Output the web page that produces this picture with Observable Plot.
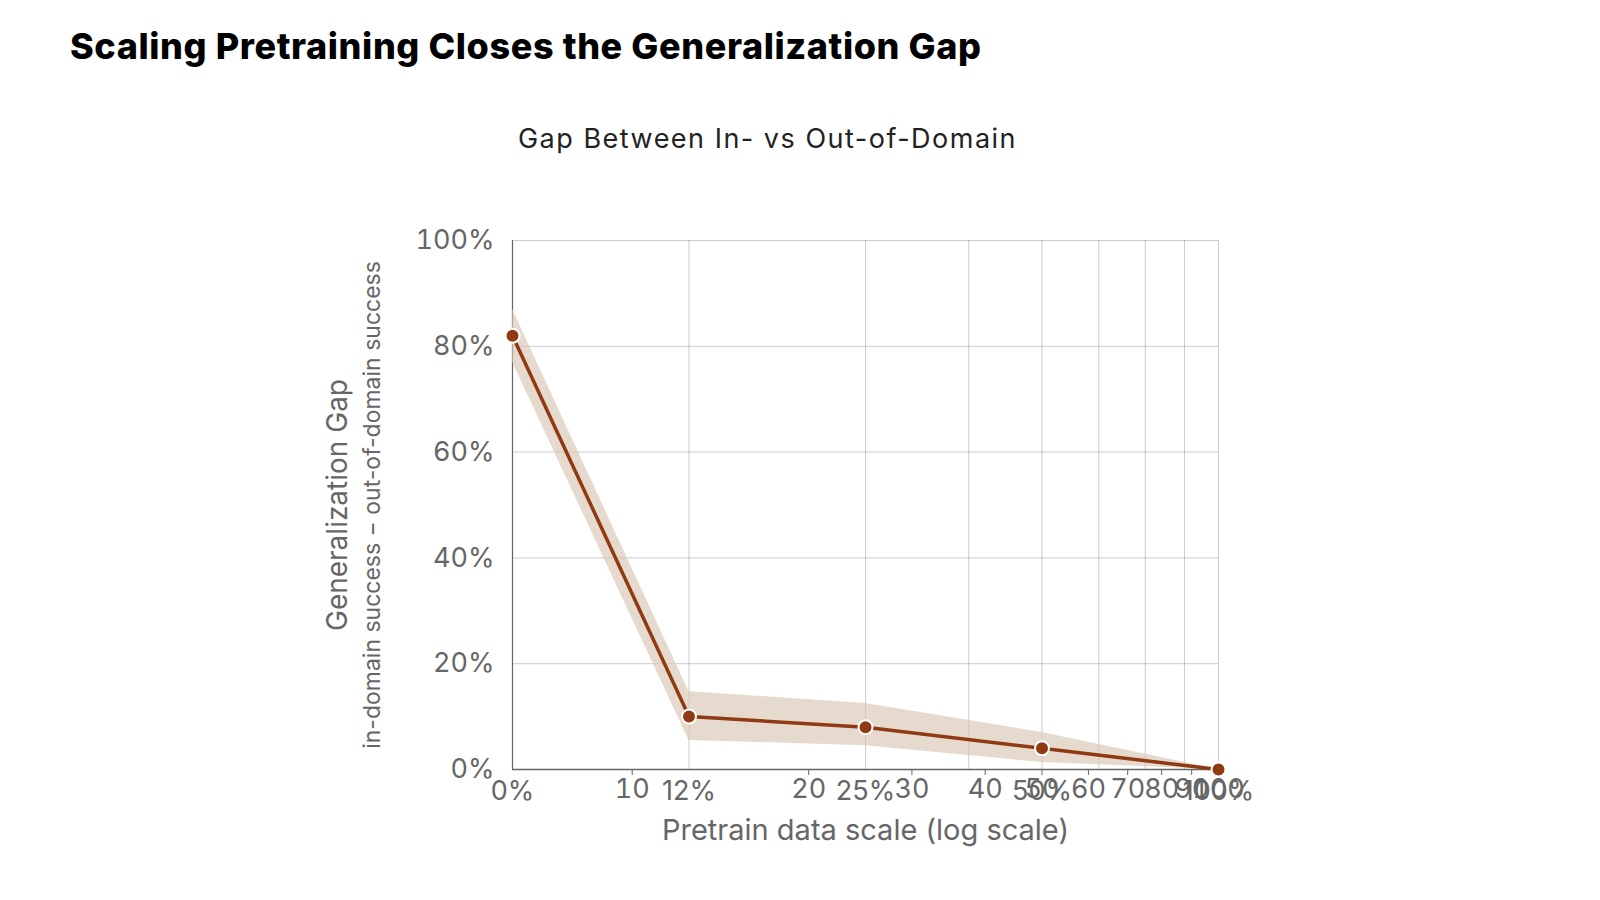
<!DOCTYPE html>
<html><head><meta charset="utf-8">
<script src="https://cdn.jsdelivr.net/npm/d3@7"></script>
<script src="https://cdn.jsdelivr.net/npm/@observablehq/plot@0.6"></script>
<style>
body{margin:0;background:#fff;font-family:Inter,sans-serif;}
#title{position:absolute;left:70px;top:24px;font-size:36px;font-weight:800;color:#000;letter-spacing:0.6px}
#sub{position:absolute;left:0;width:1535px;text-align:center;top:122px;font-size:27px;color:#222;letter-spacing:1.5px}
#chart{position:absolute;left:0;top:200px}
</style></head><body>
<div id="title">Scaling Pretraining Closes the Generalization Gap</div>
<div id="sub">Gap Between In- vs Out-of-Domain</div>
<div id="chart"></div>
<script>
const scales = [6.25, 12.5, 25, 50, 100];
const scaleLabels = ["0%", "12%", "25%", "50%", "100%"];
const gap = [82, 10, 8, 4, 0];
const gapLow = [77, 5.5, 4.5, 1.3, 0];
const gapHigh = [87, 14.7, 12.5, 7, 0];
const minorGrid = [37.5, 62.5, 75, 87.5];
const yTicks = [0, 20, 40, 60, 80, 100];

const data = scales.map((s, i) => ({x: s, y: gap[i], lo: gapLow[i], hi: gapHigh[i]}));
const brown = "#8f3a12";
const plot = Plot.plot({
  width: 1600, height: 700,
  marginLeft: 512, marginRight: 382, marginTop: 40, marginBottom: 131,
  style: {fontFamily: "Inter, sans-serif", fontSize: "27px", color: "#666", background: "transparent"},
  x: {type: "log", base: 2, domain: [6.25, 100], label: null},
  y: {domain: [0, 100], label: null},
  marks: [
    Plot.ruleX(scales.concat(minorGrid), {stroke: "#999", strokeOpacity: 0.5}),
    Plot.ruleY(yTicks, {stroke: "#999", strokeOpacity: 0.5}),
    Plot.ruleX([6.25], {stroke: "#666", strokeWidth: 1.2}),
    Plot.ruleY([0], {stroke: "#666", strokeWidth: 1.5}),
    Plot.areaY(data, {x: "x", y1: "lo", y2: "hi", fill: "#d9c6b6", fillOpacity: 0.65}),
    Plot.line(data, {x: "x", y: "y", stroke: brown, strokeWidth: 3.5}),
    Plot.dot(data, {x: "x", y: "y", r: 7, fill: brown, stroke: "#fff", strokeWidth: 2}),
    Plot.axisY(yTicks, {tickSize: 0, tickPadding: 18, tickFormat: d => d + "%", fontSize: 27, fill: "#666"}),
    Plot.text(data, {x: "x", frameAnchor: "bottom", dy: 30, text: (d, i) => scaleLabels[i], fontSize: 27, fill: "#666"}),
    Plot.text(["Pretrain data scale (log scale)"], {frameAnchor: "bottom", dy: 70, fontSize: 29, fill: "#666"}),
    Plot.text(["Generalization Gap"], {frameAnchor: "left", textAnchor: "middle", dx: -174, rotate: -90, fontSize: 28, fill: "#666"}),
    Plot.text(["in-domain success \u2212 out-of-domain success"], {frameAnchor: "left", textAnchor: "middle", dx: -140, rotate: -90, fontSize: 23, fill: "#666"})
  ]
});
document.getElementById("chart").appendChild(plot);
</script></body></html>
